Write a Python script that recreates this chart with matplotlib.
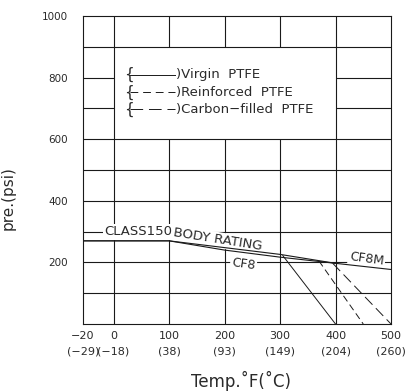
'''
Class150 body rating / PTFE seat pressure-temperature chart
'''
import numpy as np
import matplotlib
matplotlib.use('Agg')
from matplotlib import pyplot as plt

#############################################
#DATA
x_ticks = [-20, 0, 100, 200, 300, 400, 500]
x_tick_c = ['(-29)', '(-18)', '(38)', '(93)', '(149)', '(204)', '(260)']
y_ticks = [200, 400, 600, 800, 1000]

#body rating lines
cf8m_t = [-20, 100, 200, 300, 400, 500]
cf8m_p = [270, 270, 248, 226, 197, 177]
cf8_t = [-20, 100, 200, 300, 400]
cf8_p = [270, 270, 240, 217, 197]

#seat limits
virgin_t = [305, 400]
virgin_p = [222, 0]
reinf_t = [370, 450]
reinf_p = [205, 0]
carbon_t = [395, 500]
carbon_p = [197, 0]
#############################################

ink = '#1a1a1a'
txt = '#2a2a2a'
lw = 0.8

#-20..0 is stretched on the original drawing
def fwd(x):
    x = np.asarray(x, dtype=float)
    return np.where(x < 0, x * 2.76, x)

def inv(x):
    x = np.asarray(x, dtype=float)
    return np.where(x < 0, x / 2.76, x)

fig = plt.figure(figsize=(4.2, 3.92), dpi=100)
ax = fig.add_axes([83/420, 1 - 324/392, 308/420, 308/392])
ax.set_xscale('function', functions=(fwd, inv))
ax.set_xlim(-20, 500)
ax.set_ylim(0, 1000)

#grid with the legend window left open
gkw = dict(color=ink, linewidth=lw, zorder=1)
ax.hlines([100, 200, 300, 400, 500, 600, 900], -20, 500, **gkw)
ax.hlines([700, 800], -20, 0, **gkw)
ax.hlines([700, 800], 400, 500, **gkw)
ax.vlines([0, 400], 0, 1000, **gkw)
ax.vlines([100, 200, 300], 0, 600, **gkw)
ax.vlines([100, 200, 300], 900, 1000, **gkw)

#rating lines
ax.plot(cf8m_t, cf8m_p, color=ink, linewidth=lw, zorder=4)
ax.plot(cf8_t, cf8_p, color=ink, linewidth=lw, zorder=4)

#PTFE lines
ax.plot(virgin_t, virgin_p, color=ink, linewidth=0.7, zorder=4)
ax.plot(reinf_t, reinf_p, color=ink, linewidth=0.7, dashes=(7, 4), zorder=4)
ax.plot(carbon_t, carbon_p, color=ink, linewidth=0.7, dashes=(11, 5), zorder=4)

#labels on the chart
box = dict(facecolor='white', edgecolor='none', pad=1)
ax.text(-6, 300, 'CLASS150', ha='left', va='center', fontsize=9.5,
        color=txt, bbox=box, zorder=3)
ax.text(187, 273, 'BODY RATING', ha='center', va='center', fontsize=9.5,
        rotation=-9, rotation_mode='anchor', color=txt, bbox=box, zorder=3)
ax.text(234, 195, 'CF8', ha='center', va='center', fontsize=9,
        rotation=-8, rotation_mode='anchor', color=txt, bbox=box, zorder=3)
ax.text(456, 211, 'CF8M', ha='center', va='center', fontsize=9,
        rotation=-8, rotation_mode='anchor', color=txt, bbox=box, zorder=3)

#legend (drawn by hand, with the braces)
rows = [(0.809, 'Virgin  PTFE', None),
        (0.753, 'Reinforced  PTFE', (8, 5)),
        (0.698, 'Carbon-filled  PTFE', (13, 6))]
for yy, lab, dsh in rows:
    ax.text(0.132, yy, '{', transform=ax.transAxes, ha='left', va='center',
            fontsize=11, color=txt)
    kw = dict(transform=ax.transAxes, color=ink, linewidth=0.7)
    if dsh:
        kw['dashes'] = dsh
    ax.plot([0.152, 0.300], [yy, yy], **kw)
    ax.text(0.302, yy, ')' + lab.replace('-', '\u2212'), transform=ax.transAxes,
            ha='left', va='center', fontsize=9.5, color=txt)

#axes
for s in ax.spines.values():
    s.set_linewidth(lw)
    s.set_color(ink)
    s.set_zorder(5)

ax.set_xticks(x_ticks)
ax.set_xticklabels([f'{t:d}'.replace('-', '\u2212') + '\n' + c.replace('-', '\u2212')
                    for t, c in zip(x_ticks, x_tick_c)],
                   fontsize=8, color=txt, linespacing=1.7)
ax.set_yticks(y_ticks)
ax.set_yticklabels([str(v) for v in y_ticks], fontsize=7.5, color=txt)
ax.tick_params(axis='x', length=0, pad=5)
ax.tick_params(axis='y', length=0, pad=11)
ax.xaxis.set_minor_locator(matplotlib.ticker.NullLocator())

ax.set_xlabel('Temp.\u02daF(\u02daC)', fontsize=12, color=txt)
ax.xaxis.set_label_coords(0.513, -0.152)
ax.set_ylabel('pre.(psi)', fontsize=11, color=txt)
ax.yaxis.set_label_coords(-0.218, 0.41)

plt.savefig('out.png', dpi=100)
